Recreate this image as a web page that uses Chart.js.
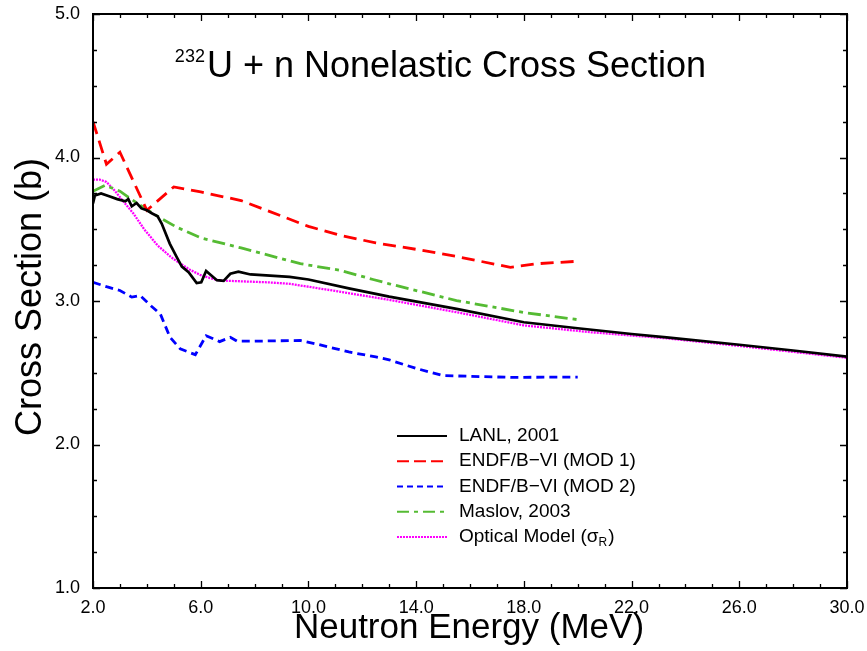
<!DOCTYPE html>
<html><head><meta charset="utf-8">
<script src="https://cdn.jsdelivr.net/npm/chart.js@4/dist/chart.umd.min.js"></script>
<style>html,body{margin:0;padding:0;background:#fff}canvas{display:block}</style>
</head><body>
<canvas id="c" width="867" height="651"></canvas>
<script>
const FONT = '"Liberation Sans", Arial, Helvetica, sans-serif';

// ---- tick labels ----
const xTicks = [2, 6, 10, 14, 18, 22, 26, 30];
const yTicks = [1, 2, 3, 4, 5];

// ---- text ----
const titleSup = '232';
const titleMain = 'U + n Nonelastic Cross Section';
const xTitle = 'Neutron Energy (MeV)';
const yTitle = 'Cross Section (b)';
const seriesNames = ['LANL, 2001', 'ENDF/B\u2212VI (MOD 1)', 'ENDF/B\u2212VI (MOD 2)', 'Maslov, 2003', 'Optical Model (\u03c3'];

// ---- data ----
const lanlE = [2.0, 2.07, 2.3, 2.6, 2.9, 3.2, 3.31, 3.44, 3.62, 3.8, 4.0, 4.2, 4.4, 4.55, 4.85, 5.1, 5.3, 5.55, 5.85, 6.02, 6.2, 6.6, 6.85, 7.1, 7.4, 7.85, 9.3, 10.0, 11.5, 13.0, 15.5, 18.0, 20.0, 22.0, 23.3, 26.0, 28.0, 30.0];
const lanlV = [3.68, 3.735, 3.75, 3.73, 3.71, 3.695, 3.71, 3.66, 3.683, 3.645, 3.632, 3.61, 3.59, 3.54, 3.40, 3.31, 3.24, 3.20, 3.125, 3.13, 3.21, 3.145, 3.14, 3.19, 3.205, 3.185, 3.168, 3.15, 3.088, 3.03, 2.945, 2.852, 2.81, 2.77, 2.747, 2.695, 2.655, 2.613];

const mod1E = [2.0, 2.5, 3.0, 4.0, 5.0, 6.0, 7.5, 10.0, 11.2, 12.5, 14.0, 15.5, 17.5, 18.5, 20.0];
const mod1V = [4.25, 3.953, 4.037, 3.632, 3.795, 3.76, 3.70, 3.52, 3.457, 3.405, 3.36, 3.31, 3.235, 3.26, 3.277];

const mod2E = [2.0, 2.5, 3.0, 3.44, 3.75, 4.18, 4.5, 4.86, 5.24, 5.8, 6.2, 6.7, 7.1, 7.35, 8.0, 9.7, 10.3, 11.5, 12.5, 13.0, 14.0, 15.0, 17.5, 20.0];
const mod2V = [3.13, 3.10, 3.073, 3.027, 3.038, 2.962, 2.91, 2.747, 2.666, 2.626, 2.758, 2.717, 2.747, 2.72, 2.72, 2.725, 2.70, 2.645, 2.61, 2.59, 2.53, 2.48, 2.468, 2.47];

const maslovE = [2.0, 2.45, 3.0, 3.75, 4.4, 5.1, 6.0, 7.5, 9.7, 11.2, 12.4, 13.0, 15.5, 18.0, 20.0];
const maslovV = [3.765, 3.806, 3.765, 3.667, 3.59, 3.515, 3.44, 3.37, 3.26, 3.213, 3.15, 3.12, 3.003, 2.92, 2.87];

const omE = [2.0, 2.25, 2.5, 2.8, 3.1, 3.5, 3.9, 4.4, 4.9, 5.25, 5.6, 6.0, 6.35, 6.7, 8.5, 9.3, 11.0, 13.0, 15.5, 18.0, 20.5, 23.3, 26.0, 30.0];
const omV = [3.846, 3.846, 3.83, 3.77, 3.70, 3.61, 3.50, 3.387, 3.305, 3.26, 3.218, 3.18, 3.16, 3.143, 3.13, 3.12, 3.07, 3.008, 2.922, 2.83, 2.782, 2.74, 2.687, 2.604];

const pts = (E, V) => E.map((e, i) => ({x: e, y: V[i]}));

const styles = [
  {color: '#000000', width: 2.7, dash: []},
  {color: '#ff0000', width: 2.8, dash: [13, 7]},
  {color: '#0000ff', width: 2.8, dash: [8, 5]},
  {color: '#55bb33', width: 2.8, dash: [13, 5, 4, 5]},
  {color: '#ff00ff', width: 2.3, dash: [2, 1]}
];
const legendDash = [[], [12, 5], [6, 4], [12, 5, 4, 5], [2, 1]];

const allData = [pts(lanlE, lanlV), pts(mod1E, mod1V), pts(mod2E, mod2V), pts(maslovE, maslovV), pts(omE, omV)];

const datasets = allData.map((d, i) => ({
  label: seriesNames[i],
  data: d,
  showLine: true,
  borderColor: styles[i].color,
  borderWidth: styles[i].width,
  borderDash: styles[i].dash,
  pointRadius: 0,
  tension: 0,
  fill: false
}));

const frame = {
  id: 'frame',
  afterDraw(chart) {
    const {ctx, chartArea: a, scales: {x, y}} = chart;
    ctx.save();
    ctx.strokeStyle = '#000';
    ctx.setLineDash([]);
    // box
    ctx.lineWidth = 2;
    ctx.strokeRect(a.left, a.top, a.right - a.left, a.bottom - a.top);
    // ticks
    ctx.lineWidth = 1.3;
    ctx.beginPath();
    for (let e = x.min; e <= x.max + 1e-9; e += 1) {
      const px = Math.round(x.getPixelForValue(e)) + 0.5;
      const len = xTicks.includes(Math.round(e)) ? 7 : 4;
      ctx.moveTo(px, a.bottom); ctx.lineTo(px, a.bottom - len);
      ctx.moveTo(px, a.top); ctx.lineTo(px, a.top + len);
    }
    for (let v = y.min; v <= y.max + 1e-9; v += 0.25) {
      const py = Math.round(y.getPixelForValue(v)) + 0.5;
      const len = Math.abs(v - Math.round(v)) < 1e-6 ? 7 : 4;
      ctx.moveTo(a.left, py); ctx.lineTo(a.left + len, py);
      ctx.moveTo(a.right, py); ctx.lineTo(a.right - len, py);
    }
    ctx.stroke();

    ctx.fillStyle = '#000';
    // title
    ctx.textBaseline = 'alphabetic';
    ctx.textAlign = 'left';
    ctx.font = '18px ' + FONT;
    const supW = ctx.measureText(titleSup).width;
    ctx.font = '36px ' + FONT;
    const mainW = ctx.measureText(titleMain).width;
    const tx = 440.5 - (supW + 2 + mainW) / 2;
    ctx.font = '18px ' + FONT;
    ctx.fillText(titleSup, tx, 62);
    ctx.font = '36px ' + FONT;
    ctx.fillText(titleMain, tx + supW + 2, 77);

    // axis titles
    ctx.textAlign = 'center';
    ctx.font = '35px ' + FONT;
    ctx.fillText(xTitle, 469, 638);
    ctx.save();
    ctx.translate(41, 297);
    ctx.rotate(-Math.PI / 2);
    ctx.font = '36px ' + FONT;
    ctx.fillText(yTitle, 0, 0);
    ctx.restore();

    // legend
    const lx0 = 397, lx1 = 447, tx0 = 459, ly0 = 436, dy = 25.25;
    ctx.textAlign = 'left';
    ctx.textBaseline = 'middle';
    for (let i = 0; i < seriesNames.length; i++) {
      const ly = ly0 + i * dy;
      ctx.strokeStyle = styles[i].color;
      ctx.lineWidth = 2;
      ctx.setLineDash(legendDash[i]);
      ctx.beginPath();
      ctx.moveTo(lx0, ly); ctx.lineTo(lx1, ly);
      ctx.stroke();
      ctx.setLineDash([]);
      ctx.font = '19px ' + FONT;
      ctx.fillStyle = '#000';
      ctx.fillText(seriesNames[i], tx0, ly);
      if (i === 4) {
        let w = ctx.measureText(seriesNames[i]).width;
        ctx.font = '12px ' + FONT;
        ctx.fillText('R', tx0 + w, ly + 6);
        const w2 = ctx.measureText('R').width;
        ctx.font = '19px ' + FONT;
        ctx.fillText(')', tx0 + w + w2 + 1, ly);
      }
    }
    ctx.restore();
  }
};

const zeroPad = s => { s.paddingTop = 0; s.paddingBottom = 0; s.paddingLeft = 0; s.paddingRight = 0; };

new Chart(document.getElementById('c'), {
  type: 'scatter',
  data: {datasets},
  options: {
    responsive: false,
    animation: false,
    layout: {padding: {top: 14, right: 20, left: 0, bottom: 0}},
    plugins: {legend: {display: false}, title: {display: false}, tooltip: {enabled: false}},
    scales: {
      x: {
        type: 'linear', min: 2, max: 30,
        grid: {display: false, drawTicks: false},
        border: {display: false},
        afterBuildTicks: s => { s.ticks = xTicks.map(v => ({value: v})); },
        afterFit: s => { s.height = 63; zeroPad(s); },
        ticks: {padding: 9, color: '#000', font: {family: FONT, size: 18}, maxRotation: 0, autoSkip: false,
          callback: v => Number(v).toFixed(1)}
      },
      y: {
        type: 'linear', min: 1, max: 5,
        grid: {display: false, drawTicks: false},
        border: {display: false},
        afterBuildTicks: s => { s.ticks = yTicks.map(v => ({value: v})); },
        afterFit: s => { s.width = 93; zeroPad(s); },
        ticks: {padding: 13, color: '#000', font: {family: FONT, size: 18},
          callback: v => Number(v).toFixed(1)}
      }
    }
  },
  plugins: [frame]
});
</script>
</body></html>
